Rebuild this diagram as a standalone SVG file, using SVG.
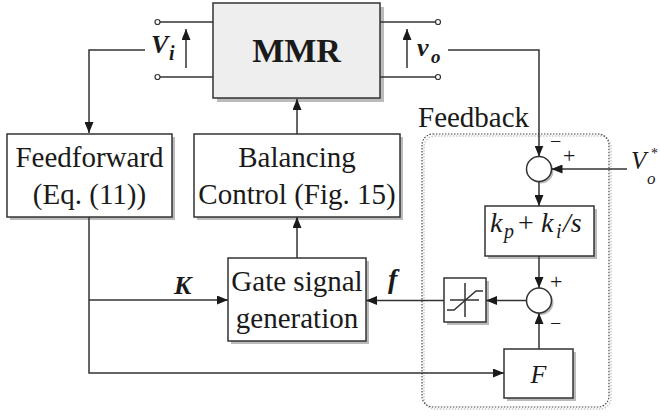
<svg xmlns="http://www.w3.org/2000/svg" width="660" height="417" viewBox="0 0 660 417">
<style>
.ln{fill:none;stroke:#333;stroke-width:1.5}
.bx{fill:#fff;stroke:#333;stroke-width:1.5}
.sh{fill:#bbb;stroke:none}
.t{font-family:"Liberation Serif","Times New Roman",serif;fill:#1a1a1a}
.m{font-size:29px;text-anchor:middle}
.bi{font-weight:bold;font-style:italic}
.it{font-style:italic}
</style>
<defs>
<marker id="ah" markerWidth="11" markerHeight="9" refX="11" refY="4.5" orient="auto" markerUnits="userSpaceOnUse">
<path d="M0,0 L11,4.5 L0,9 z" fill="#1a1a1a"/>
</marker>
</defs>

<g id="mmr">
<rect class="sh" x="217" y="7" width="167" height="95"/>
<rect x="213" y="3" width="167" height="95" fill="#eeeeee" stroke="#333" stroke-width="1.5"/>
<text class="t" x="296.5" y="62" font-size="34" font-weight="bold" text-anchor="middle">MMR</text>
</g>

<g id="terminals">
<line class="ln" x1="160" y1="22" x2="213" y2="22"/>
<line class="ln" x1="160" y1="77" x2="213" y2="77"/>
<circle cx="157.5" cy="22" r="2.5" fill="#fff" stroke="#333" stroke-width="1.2"/>
<circle cx="157.5" cy="77" r="2.5" fill="#fff" stroke="#333" stroke-width="1.2"/>
<line class="ln" x1="380" y1="22" x2="435.5" y2="22"/>
<line class="ln" x1="380" y1="77" x2="435.5" y2="77"/>
<circle cx="438" cy="22" r="2.5" fill="#fff" stroke="#333" stroke-width="1.2"/>
<circle cx="438" cy="77" r="2.5" fill="#fff" stroke="#333" stroke-width="1.2"/>
<text class="t bi" x="151" y="53" font-size="26">V</text>
<text class="t bi" x="169" y="60" font-size="20">i</text>
<text class="t bi" x="417" y="56" font-size="26">v</text>
<text class="t bi" x="431" y="63" font-size="19">o</text>
</g>

<g id="feedforward">
<rect class="sh" x="10" y="137" width="165" height="83"/>
<rect class="bx" x="7" y="134" width="165" height="83"/>
<text class="t m" x="89.5" y="167">Feedforward</text>
<text class="t m" x="89.5" y="204">(Eq. (11))</text>
</g>

<g id="balancing">
<rect class="sh" x="197" y="137" width="206" height="83"/>
<rect class="bx" x="194" y="134" width="206" height="83"/>
<text class="t m" x="297" y="167">Balancing</text>
<text class="t m" x="297" y="204">Control (Fig. 15)</text>
</g>

<g id="gate">
<rect class="sh" x="231" y="261" width="138" height="83"/>
<rect class="bx" x="228" y="258" width="138" height="83"/>
<text class="t m" x="297" y="291">Gate signal</text>
<text class="t m" x="297" y="328">generation</text>
</g>

<g id="feedback">
<rect x="424" y="136" width="187" height="273" rx="11" fill="none" stroke="#c8c8c8" stroke-width="1.5" stroke-dasharray="1.5,1.5"/>
<rect x="422" y="134" width="187" height="273" rx="11" fill="none" stroke="#444" stroke-width="1.2" stroke-dasharray="1.5,1.5"/>
<text class="t" x="418" y="127" font-size="29">Feedback</text>
</g>

<g id="sum1">
<circle cx="541" cy="171" r="12.5" fill="#bbb"/>
<circle cx="539" cy="169" r="12.5" class="bx"/>
<text class="t" x="550" y="148" font-size="20">−</text>
<text class="t" x="563" y="163" font-size="22">+</text>
</g>

<g id="vref">
<text class="t it" x="631" y="169" font-size="25">V</text>
<text class="t it" x="647" y="184" font-size="17">o</text>
<text class="t" x="651" y="158" font-size="14">*</text>
</g>

<g id="pi">
<rect class="sh" x="488" y="209" width="109" height="50"/>
<rect class="bx" x="485" y="206" width="109" height="50"/>
<text class="t it" x="490" y="232" font-size="28">k</text>
<text class="t it" x="504" y="238" font-size="20">p</text>
<text class="t" x="518" y="232" font-size="28">+</text>
<text class="t it" x="541" y="232" font-size="28">k</text>
<text class="t it" x="556" y="238" font-size="20">i</text>
<text class="t it" x="563" y="232" font-size="28">/s</text>
</g>

<g id="sum2">
<circle cx="541" cy="302.5" r="12.5" fill="#bbb"/>
<circle cx="539" cy="300.5" r="12.5" class="bx"/>
<text class="t" x="550" y="289" font-size="22">+</text>
<text class="t" x="550" y="330" font-size="20">−</text>
</g>

<g id="sat">
<rect class="sh" x="447" y="281" width="42" height="44"/>
<rect class="bx" x="444" y="278" width="42" height="44"/>
<path class="ln" d="M450,300 H479 M465,283 V317"/>
<path class="ln" d="M447,310 H454 L476,291 H483"/>
</g>

<g id="fblock">
<rect class="sh" x="507" y="352" width="69" height="49"/>
<rect class="bx" x="504" y="349" width="69" height="49"/>
<text class="t it" x="538.5" y="383" font-size="26" text-anchor="middle">F</text>
</g>

<g id="labels">
<text class="t bi" x="174" y="294" font-size="26">K</text>
<text class="t bi" x="388" y="288" font-size="28">f</text>
</g>

<g id="connectors">
<path class="ln" d="M145,50 H89 V133" marker-end="url(#ah)"/>
<path class="ln" d="M186,68 V29" marker-end="url(#ah)"/>
<path class="ln" d="M407,68 V29" marker-end="url(#ah)"/>
<path class="ln" d="M448,50 H539 V156.5" marker-end="url(#ah)"/>
<path class="ln" d="M627,169 H551.5" marker-end="url(#ah)"/>
<path class="ln" d="M539,181.5 V206" marker-end="url(#ah)"/>
<path class="ln" d="M539,256 V288" marker-end="url(#ah)"/>
<path class="ln" d="M539,349 V313" marker-end="url(#ah)"/>
<path class="ln" d="M526.5,300.5 H486" marker-end="url(#ah)"/>
<path class="ln" d="M444,300.5 H366" marker-end="url(#ah)"/>
<path class="ln" d="M89,217 V373 H504" marker-end="url(#ah)"/>
<path class="ln" d="M89,300 H228" marker-end="url(#ah)"/>
<path class="ln" d="M297,258 V217" marker-end="url(#ah)"/>
<path class="ln" d="M297,134 V99" marker-end="url(#ah)"/>
</g>
</svg>
